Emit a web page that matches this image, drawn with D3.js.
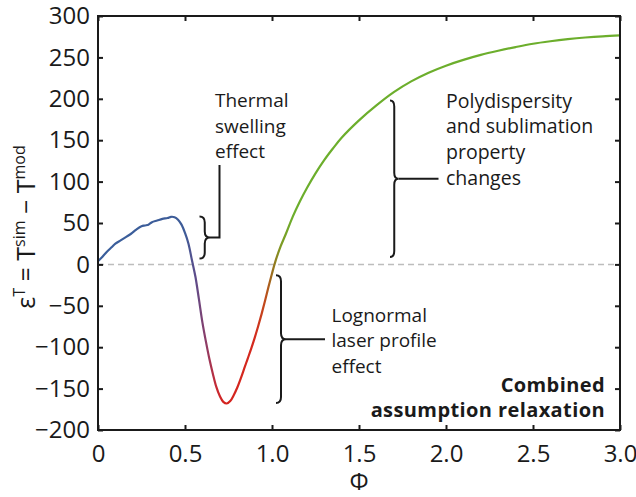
<!DOCTYPE html>
<html>
<head>
<meta charset="utf-8">
<script src="https://cdn.jsdelivr.net/npm/d3@7"></script>
<style>
  html, body { margin: 0; padding: 0; background: #fff; }
  svg { display: block; font-family: "Open Sans", "Noto Sans", sans-serif; }
</style>
</head>
<body>
<svg id="chart" width="636" height="497"></svg>
<script>
// Temperature error against fluence
const phi = [0.00, 0.02, 0.05, 0.08, 0.10, 0.13, 0.16, 0.19, 0.22, 0.25, 0.27, 0.29, 0.31, 0.34,
  0.37, 0.40, 0.42, 0.44, 0.46, 0.48, 0.50, 0.52, 0.54, 0.56, 0.58, 0.60, 0.62, 0.64, 0.66, 0.68,
  0.70, 0.72, 0.74, 0.76, 0.78, 0.80, 0.82, 0.84, 0.86, 0.88, 0.90, 0.92, 0.94, 0.96, 0.98, 1.00,
  1.02, 1.05, 1.08, 1.12, 1.16, 1.20, 1.25, 1.30, 1.35, 1.40, 1.50, 1.60, 1.70, 1.80, 1.90, 2.00,
  2.10, 2.20, 2.30, 2.40, 2.50, 2.60, 2.70, 2.80, 2.90, 3.00];
const epsT = [4, 8, 15, 21, 25, 29, 33, 37, 42, 46, 47, 48, 51, 53,
  55, 56, 57.5, 57, 54, 48, 38, 25, 5, -15, -42, -70, -93, -114, -132, -148,
  -159, -166, -168, -165, -158, -149, -138, -126, -114, -102, -89, -75, -60, -44, -27, -11,
  4, 22, 37, 58, 76, 92, 110, 126, 140, 153, 174, 192, 208, 221, 231.5, 240,
  247, 253, 258, 262.5, 266.5, 269.5, 272, 274, 275.5, 276.5];

// colour of the curve along the fluence axis
const gradPhi = [0, 0.50, 0.56, 0.62, 0.68, 0.72, 0.90, 0.96, 1.00, 1.05, 1.12, 3.0];
const gradCol = ["#3a5f9c", "#3e5c98", "#5d4c8a", "#8c3d68", "#c62a34", "#d4221f",
  "#d42a1e", "#c04b1c", "#9a6e1e", "#7e9a24", "#6cae2c", "#6cae2c"];

const xTicks = [0, 0.5, 1.0, 1.5, 2.0, 2.5, 3.0];
const xTickLabels = ["0", "0.5", "1.0", "1.5", "2.0", "2.5", "3.0"];
const yTicks = [-200, -150, -100, -50, 0, 50, 100, 150, 200, 250, 300];

const svg = d3.select("#chart");
const m = { left: 98, right: 16, top: 16, bottom: 67 };
const W = 636, H = 497;
const x = d3.scaleLinear().domain([0, 3]).range([m.left, W - m.right]);
const y = d3.scaleLinear().domain([-200, 300]).range([H - m.bottom, m.top]);

const ink = "#1a1a1a";

// zero reference line
svg.append("line")
  .attr("x1", x(0)).attr("x2", x(3))
  .attr("y1", y(0)).attr("y2", y(0))
  .attr("stroke", "#bdbdbd").attr("stroke-width", 1.5)
  .attr("stroke-dasharray", "6,4");

// gradient for the curve
const defs = svg.append("defs");
const grad = defs.append("linearGradient")
  .attr("id", "curveGrad")
  .attr("gradientUnits", "userSpaceOnUse")
  .attr("x1", x(0)).attr("x2", x(3)).attr("y1", 0).attr("y2", 0);
gradPhi.forEach((p, i) => {
  grad.append("stop").attr("offset", p / 3).attr("stop-color", gradCol[i]);
});

const pts = phi.map((p, i) => [p, epsT[i]]);
const line = d3.line().x(d => x(d[0])).y(d => y(d[1])).curve(d3.curveCatmullRom.alpha(0.5));
svg.append("path")
  .attr("d", line(pts))
  .attr("fill", "none")
  .attr("stroke", "url(#curveGrad)")
  .attr("stroke-width", 2.2)
  .attr("stroke-linejoin", "round");

// axes with inward ticks on all sides
const tickLen = 5;
const fmtX = (d) => xTickLabels[xTicks.indexOf(d)];
const gx = svg.append("g").attr("transform", `translate(0,${y(-200)})`)
  .call(d3.axisBottom(x).tickValues(xTicks).tickFormat(fmtX).tickSize(-tickLen).tickPadding(15));
const gxt = svg.append("g").attr("transform", `translate(0,${y(300)})`)
  .call(d3.axisTop(x).tickValues(xTicks).tickFormat("").tickSize(-tickLen));
const gy = svg.append("g").attr("transform", `translate(${x(0)},0)`)
  .call(d3.axisLeft(y).tickValues(yTicks).tickSize(-tickLen).tickPadding(8));
const gyr = svg.append("g").attr("transform", `translate(${x(3)},0)`)
  .call(d3.axisRight(y).tickValues(yTicks).tickFormat("").tickSize(-tickLen));
[gx, gxt, gy, gyr].forEach(g => {
  g.select(".domain").remove();
  g.selectAll(".tick line").attr("stroke", ink).attr("stroke-width", 2);
  g.selectAll(".tick text").attr("fill", ink)
    .style("font-family", '"Open Sans", sans-serif').style("font-size", "24px");
});

svg.append("rect")
  .attr("x", x(0)).attr("y", y(300))
  .attr("width", x(3) - x(0)).attr("height", y(-200) - y(300))
  .attr("fill", "none").attr("stroke", ink).attr("stroke-width", 2);

// axis titles
svg.append("text")
  .attr("x", x(1.5)).attr("y", 490)
  .attr("text-anchor", "middle")
  .attr("fill", ink).style("font-size", "24px")
  .text("Φ");

const yl = svg.append("text")
  .attr("transform", `translate(35,${y(50) + 4}) rotate(-90)`)
  .attr("text-anchor", "middle")
  .attr("fill", ink).style("font-size", "25px");
yl.append("tspan").text("ε");
yl.append("tspan").attr("dy", -10).style("font-size", "16px").text("T");
yl.append("tspan").attr("dy", 10).text(" = T");
yl.append("tspan").attr("dy", -10).style("font-size", "16px").text("sim");
yl.append("tspan").attr("dy", 10).text(" − T");
yl.append("tspan").attr("dy", -10).style("font-size", "16px").text("mod");

// curly brace pointing right, spanning y0..y1 at x0
function brace(x0, y0, y1, w) {
  const xm = x0 + w / 2, ym = (y0 + y1) / 2, r = 6;
  return `M${x0},${y0} Q${xm},${y0} ${xm},${y0 + r} L${xm},${ym - r} Q${xm},${ym} ${x0 + w},${ym}`
    + ` Q${xm},${ym} ${xm},${ym + r} L${xm},${y1 - r} Q${xm},${y1} ${x0},${y1}`;
}
const ann = svg.append("g").attr("fill", "none").attr("stroke", ink).attr("stroke-width", 2);

// thermal swelling: brace over the positive bump
const tb = { x: 199.5, y0: y(58), y1: y(7), w: 10.5 };
ann.append("path").attr("d", brace(tb.x, tb.y0, tb.y1, tb.w));
ann.append("path").attr("d",
  `M${tb.x + tb.w},${(tb.y0 + tb.y1) / 2} H219.5 V165`);

// lognormal laser profile: brace over the negative dip
const lb = { x: 276, y0: y(-13), y1: y(-167.5), w: 10 };
ann.append("path").attr("d", brace(lb.x, lb.y0, lb.y1, lb.w));
ann.append("path").attr("d", `M${lb.x + lb.w},${(lb.y0 + lb.y1) / 2} H325`);

// polydispersity: brace over the rising branch
const pb = { x: 390, y0: y(198), y1: y(9), w: 8.5 };
ann.append("path").attr("d", brace(pb.x, pb.y0, pb.y1, pb.w));
ann.append("path").attr("d", `M${pb.x + pb.w},${(pb.y0 + pb.y1) / 2} H438.5`);

function textBlock(lines, tx, ty, lh, opts) {
  const t = svg.append("text").attr("fill", ink)
    .style("font-size", opts.size + "px")
    .style("font-weight", opts.weight || 400)
    .style("letter-spacing", (opts.spacing || 0) + "px")
    .attr("text-anchor", opts.anchor || "start");
  lines.forEach((s, i) => t.append("tspan").attr("x", tx).attr("y", ty + i * lh).text(s));
}
textBlock(["Thermal", "swelling", "effect"], 215, 107, 25.5, { size: 19 });
textBlock(["Lognormal", "laser profile", "effect"], 331.5, 321.5, 25.5, { size: 19 });
textBlock(["Polydispersity", "and sublimation", "property", "changes"], 446, 107.5, 25.8, { size: 19.5 });
textBlock(["Combined", "assumption relaxation"], 605, 391.5, 25, { size: 20, weight: 700, anchor: "end", spacing: 0.4 });
</script>
</body>
</html>
